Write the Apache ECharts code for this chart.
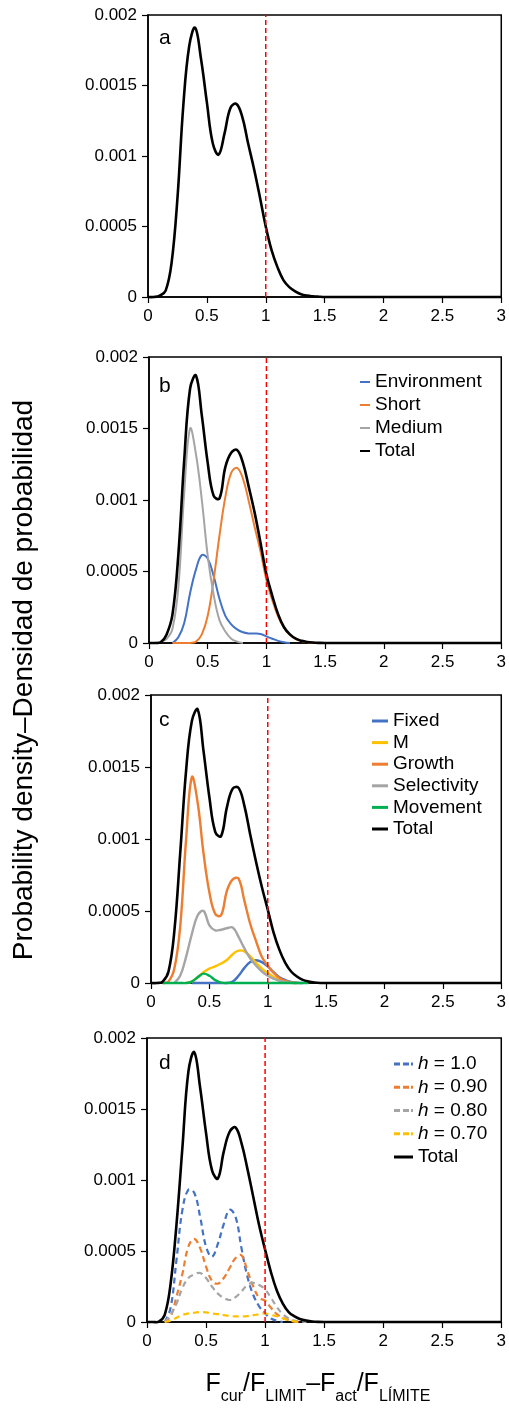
<!DOCTYPE html>
<html><head><meta charset="utf-8">
<script src="https://cdn.jsdelivr.net/npm/echarts/dist/echarts.min.js"></script>
<style>html,body{margin:0;padding:0;background:#fff}#c{width:509px;height:1410px}</style>
</head><body><div id="c"></div><script>
// x grid (F ratio)
const X = [0,0.05,0.1,0.15,0.2,0.25,0.3,0.35,0.4,0.45,0.5,0.55,0.6,0.65,0.7,0.75,0.8,0.85,0.9,0.95,1.0,1.05,1.1,1.15,1.2,1.25,1.3,1.35,1.4,1.45,1.5,3];
const LIMIT = 1;
const SCALE = 1e-4; // densities below are stored in units of 1e-4
const xTicks = {min:0, max:3, step:0.5};
const yTicks = {min:0, max:0.002, step:0.0005};

// panel a
const totalA = [0,0,0.1,0.45,2.4,7.0,13.6,17.8,19.1,16.9,13.8,10.9,10.1,11.6,13.4,13.7,12.8,10.9,9.1,7.1,5.0,3.3,2.1,1.2,0.7,0.4,0.2,0.1,0.05,0.02,0,0];
// panel b
const envB   = [null,null,null,null,0,0.4,1.4,3.5,5.15,6.15,5.9,4.7,3.1,1.9,1.3,0.95,0.75,0.67,0.66,0.63,0.46,0.3,0.15,0.05,0,null,null,null,null,null,null,null];
const shortB = [null,null,null,null,0,0,0,0,0.1,0.6,1.9,4.4,7.5,10.2,11.9,12.25,11.5,9.9,8.1,6.4,4.4,3.0,1.85,1.05,0.55,0.28,0.13,0.05,0,null,null,null];
const mediumB= [null,0,0.1,0.3,1.0,3.9,10.5,15.0,13.2,10.0,6.1,3.4,1.6,0.8,0.3,0.1,0,null,null,null,null,null,null,null,null,null,null,null,null,null,null,null];
const totalB = [0,0,0.05,0.6,2.0,6.2,12.8,17.8,18.7,15.9,12.6,10.3,10.1,12.3,13.3,13.5,12.6,10.9,9.1,7.0,4.8,3.3,2.0,1.1,0.6,0.3,0.15,0.07,0.03,0.01,0,0];
// panel c
const fixedC = [null,null,null,null,null,null,null,0,0,0,0,0,0,0,0.1,0.5,1.05,1.45,1.58,1.45,1.15,0.75,0.4,0.2,0.08,0.02,0,null,null,null,null,null];
const mC     = [null,null,null,null,null,null,0,0.1,0.4,0.75,1.0,1.15,1.35,1.6,2.0,2.25,2.2,1.85,1.4,1.0,0.7,0.42,0.22,0.1,0.03,0,null,null,null,null,null,null];
const growthC= [null,null,0,0.1,1.0,3.9,9.9,14.3,12.5,9.0,6.3,4.8,4.7,6.4,7.2,7.25,5.7,4.1,2.9,1.8,1.2,0.7,0.35,0.15,0.05,0,null,null,null,null,null,null];
const selC   = [null,null,null,null,0,0.5,1.8,3.4,4.7,5.0,4.0,3.65,3.7,3.8,3.85,3.2,2.4,1.7,1.2,0.8,0.5,0.3,0.15,0.07,0.02,0,null,null,null,null,null,null];
const moveC  = [null,null,0,0,0,0,0,0.1,0.4,0.65,0.5,0.2,0.03,0,0,0,0,0,0,0,0,0,0,0,0,0,0,0,null,null,null,null];
const totalC = [0,0,0.1,0.8,3.6,9.0,14.7,18.2,19.0,16.1,12.9,10.5,10.2,12.2,13.5,13.55,12.3,10.3,8.4,6.65,5.1,3.5,2.3,1.4,0.8,0.45,0.22,0.1,0.03,0,0,0];
// panel d
const h10 = [null,null,null,0,1.0,4.4,7.9,9.3,9.1,7.4,5.3,4.6,5.5,6.9,7.9,7.4,5.2,3.2,1.9,1.1,0.6,0.25,0.08,0,null,null,null,null,null,null,null,null];
const h09 = [null,null,null,0,0.4,1.8,3.4,5.3,5.85,5.2,3.9,2.9,2.7,3.1,3.8,4.5,4.7,3.6,2.5,1.7,1.5,1.0,0.55,0.3,0.12,0.03,0,null,null,null,null,null];
const h08 = [null,null,null,0,0.5,1.3,2.4,3.1,3.35,3.45,3.1,2.5,2.0,1.7,1.55,1.75,2.15,2.6,2.75,2.6,2.3,1.7,1.05,0.55,0.25,0.1,0.03,0,null,null,null,null];
const h07 = [null,null,null,0,0.1,0.3,0.5,0.6,0.65,0.7,0.68,0.6,0.55,0.48,0.42,0.4,0.4,0.42,0.48,0.55,0.6,0.5,0.4,0.25,0.12,0.05,0,null,null,null,null,null];
const totalD = [0,0,0.02,0.5,2.7,6.9,12.3,17.6,19.0,16.5,13.3,10.7,10.1,12.0,13.4,13.7,12.6,10.8,8.8,6.8,5.1,3.5,2.2,1.3,0.7,0.4,0.2,0.1,0.04,0.01,0,0];

const FONT = '"Liberation Sans", Arial, Helvetica, sans-serif';
const BLUE='#4472C4', ORANGE='#ED7D31', GRAY='#A5A5A5', YELLOW='#FFC000', GREEN='#00B050', BLACK='#000000';

function pts(ys){
  return X.map((x,i)=>[x, ys[i]]).filter(p=>p[1]!==null).map(p=>[p[0], p[1]*SCALE]);
}
const gridsPos = [
  {left:148, right:5, top:15, height:282},
  {left:149, right:4, top:357, height:286},
  {left:151, right:5, top:695, height:288},
  {left:147, right:5, top:1038, height:284}
];
const grid = gridsPos.map(g=>Object.assign({show:true, borderColor:'#000', borderWidth:1.5, backgroundColor:'transparent'}, g));
const xAxis = gridsPos.map((g,i)=>({
  type:'value', gridIndex:i, min:xTicks.min, max:xTicks.max, interval:xTicks.step,
  axisLine:{show:true, onZero:false, lineStyle:{color:'#000', width:1.5}},
  axisTick:{show:true, length:6, lineStyle:{color:'#000', width:1.2}},
  axisLabel:{color:'#000', fontSize:17, fontFamily:FONT, margin:11},
  splitLine:{show:false}
}));
const yAxis = gridsPos.map((g,i)=>({
  type:'value', gridIndex:i, min:yTicks.min, max:yTicks.max, interval:yTicks.step,
  axisLine:{show:true, onZero:false, lineStyle:{color:'#000', width:1.5}},
  axisTick:{show:true, length:6, lineStyle:{color:'#000', width:1.2}},
  axisLabel:{color:'#000', fontSize:17, fontFamily:FONT, margin:11},
  splitLine:{show:false}
}));

// smooth density curve drawn through the cartesian scales (api.coord)
function curve(name, gi, ys, color, width, dashed, z){
  const data = pts(ys);
  return {
    type:'custom', name, coordinateSystem:'cartesian2d', xAxisIndex:gi, yAxisIndex:gi,
    data, encode:{x:0, y:1}, silent:true, z: z || 2, itemStyle:{color},
    renderItem(params, api){
      if (params.dataIndex !== 0) return null;
      const points = data.map(p => api.coord(p));
      return {type:'polyline', silent:true,
        shape:{points, smooth:0.4},
        style:{fill:'none', stroke:color, lineWidth:width, lineDash: dashed ? [6,4] : null, lineJoin:'round'}};
    }
  };
}
function limitLine(gi){
  return {type:'line', name:'limit', xAxisIndex:gi, yAxisIndex:gi, silent:true, z:6,
    data:[[LIMIT, yTicks.min],[LIMIT, yTicks.max]], symbol:'none',
    lineStyle:{color:'#FF0000', type:[5,3], width:1.5}};
}

const series = [
  curve('Total',0,totalA,BLACK,2.6,false,5), limitLine(0),
  curve('Environment',1,envB,BLUE,2,false),
  curve('Short',1,shortB,ORANGE,2,false),
  curve('Medium',1,mediumB,GRAY,2,false),
  curve('Total',1,totalB,BLACK,2.6,false,5), limitLine(1),
  curve('Fixed',2,fixedC,BLUE,2.4,false),
  curve('M',2,mC,YELLOW,2.4,false),
  curve('Growth',2,growthC,ORANGE,2.4,false),
  curve('Selectivity',2,selC,GRAY,2.4,false),
  curve('Movement',2,moveC,GREEN,2.4,false),
  curve('Total',2,totalC,BLACK,2.6,false,5), limitLine(2),
  curve('h = 1.0',3,h10,BLUE,2.2,true),
  curve('h = 0.90',3,h09,ORANGE,2.2,true),
  curve('h = 0.80',3,h08,GRAY,2.2,true),
  curve('h = 0.70',3,h07,YELLOW,2.2,true),
  curve('Total',3,totalD,BLACK,2.6,false,5), limitLine(3)
];

const ICON_B = 'path://M0,0H10V2H0Z';
const ICON_C = 'path://M0,0H16V3H0Z';
const ICON_D = 'path://M0,0H19V3H0Z';
const DASH_D = 'path://M0,0H6V3H0Z M9,0H15V3H9Z M17,0H19V3H17Z';
const legTxt = {fontSize:19, fontFamily:FONT, color:'#000', lineHeight:20,
  rich:{i:{fontStyle:'italic', fontSize:19, fontFamily:FONT, color:'#000', lineHeight:20}}};
const legBase = {orient:'vertical', padding:0, selectedMode:false, textStyle:legTxt};
const legend = [
  Object.assign({}, legBase, {data:['Environment','Short','Medium','Total'], left:360, top:372, icon:ICON_B,
   itemWidth:10, itemHeight:2, itemGap:3}),
  Object.assign({}, legBase, {data:['Fixed','M','Growth','Selectivity','Movement','Total'], left:372, top:711, icon:ICON_C,
   itemWidth:16, itemHeight:3, itemGap:1.6}),
  Object.assign({}, legBase, {data:[{name:'h = 1.0',icon:DASH_D},{name:'h = 0.90',icon:DASH_D},{name:'h = 0.80',icon:DASH_D},{name:'h = 0.70',icon:DASH_D},{name:'Total',icon:ICON_D}],
   left:394, top:1054, itemWidth:19, itemHeight:3, itemGap:3.25,
   formatter: n => n.indexOf('h =')===0 ? '{i|h}' + n.slice(1) : n})
];

const letters = [['a',159,38.5],['b',159,386.5],['c',159,720.5],['d',159,1063.5]];
const graphic = letters.map(([t,x,y])=>({type:'text', x, y, silent:true,
  style:{text:t, font:'21px '+FONT, fill:'#000', align:'left', verticalAlign:'middle'}}));
graphic.push({type:'text', x:24, y:680, rotation:Math.PI/2, silent:true,
  style:{text:'Probability density\u2013Densidad de probabilidad', font:'28px '+FONT, fill:'#000', align:'center', verticalAlign:'middle'}});
graphic.push({type:'text', x:318, y:1372, silent:true,
  style:{text:'{m|F}{s|cur}{m|/F}{s|LIMIT}{m|\u2013F}{s|act}{m|/F}{s|L\u00cdMITE}', align:'center', verticalAlign:'top', fill:'#000',
    rich:{
      m:{fontSize:25, fontFamily:FONT, lineHeight:25, verticalAlign:'top', fill:'#000'},
      s:{fontSize:16, fontFamily:FONT, lineHeight:16, padding:[17,0,0,0], verticalAlign:'top', fill:'#000'}
    }}});

const chart = echarts.init(document.getElementById('c'), null, {renderer:'canvas'});
chart.setOption({animation:false, backgroundColor:'#fff', grid, xAxis, yAxis, series, legend, graphic});
</script></body></html>
